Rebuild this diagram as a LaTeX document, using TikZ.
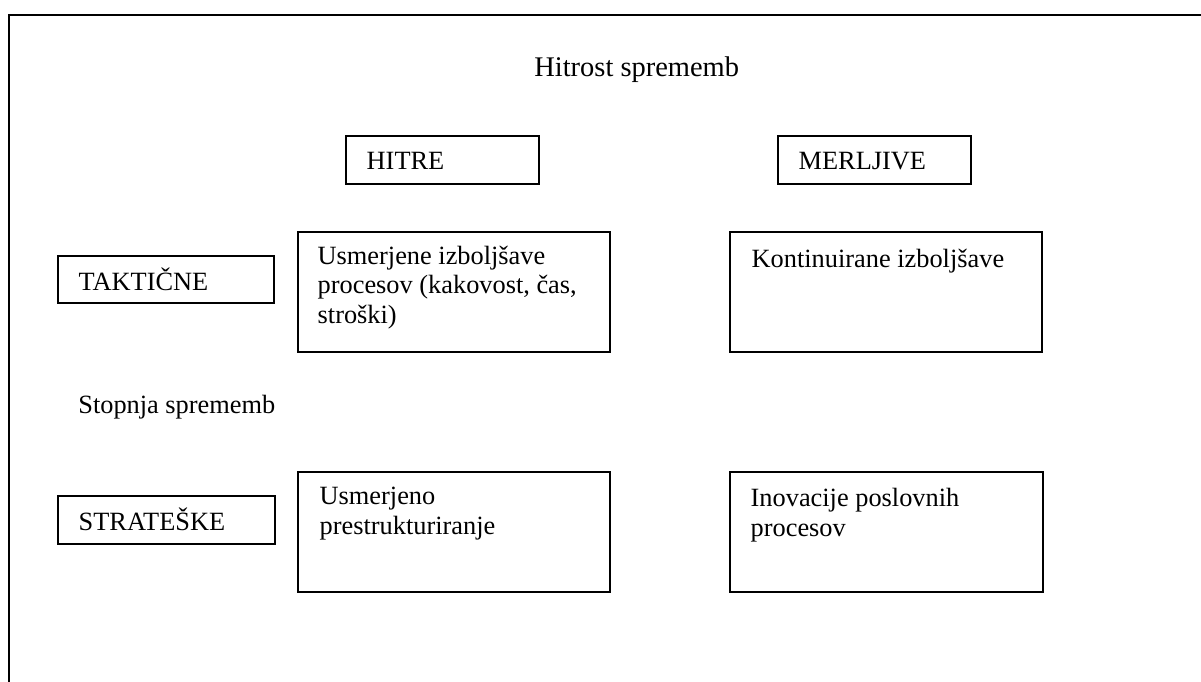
\documentclass[tikz,border=0pt]{standalone}
\usepackage{fontspec}
\setmainfont{Liberation Serif}
\usepackage{tikz}
\usetikzlibrary{positioning, calc, fit}
\tikzset{
  frame/.style={draw, line width=1pt},
  cell/.style={draw, line width=0.75pt, inner sep=0pt},
  txt/.style={anchor=base west, inner sep=0pt, align=left,
    font=\fontsize{15}{16.8}\selectfont},
}

\begin{document}
\begin{tikzpicture}[x=0.02cm, y=-0.02cm]
  \clip (0,0) rectangle (1201,682);
  \draw[frame] (9,15) rectangle (1240,720);

  % headings
  \node[txt, font=\fontsize{16.2}{18}\selectfont] (hitrost) at (534,77) {Hitrost sprememb};
  \node[txt] (stopnja) at (78,414) {Stopnja sprememb};

  % column and row tags
  \node[cell, fit={(346,136) (539,184)}] (hitreBox) {};
  \node[cell, fit={(778,136) (971,184)}] (merljiveBox) {};
  \node[cell, fit={(58,256) (274,303)}] (takticneBox) {};
  \node[cell, fit={(58,496) (275,544)}] (strateskeBox) {};
  \node[txt] (hitre) at ([shift={(21,34)}]hitreBox.north west) {HITRE};
  \node[txt] (merljive) at ([shift={(21,34)}]merljiveBox.north west) {MERLJIVE};
  \node[txt] (takticne) at ([shift={(21,35)}]takticneBox.north west) {TAKTIČNE};
  \node[txt] (strateske) at ([shift={(21,35)}]strateskeBox.north west) {STRATEŠKE};

  % quadrants (base anchor sits on the last line)
  \node[cell, fit={(298,232) (610,352)}] (usmBox) {};
  \node[cell, fit={(730,232) (1042,352)}] (kontBox) {};
  \node[cell, fit={(298,472) (610,592)}] (prestrBox) {};
  \node[cell, fit={(730,472) (1043,592)}] (inovBox) {};
  \node[txt] (usm) at ([shift={(20,92)}]usmBox.north west)
    {Usmerjene izboljšave\\procesov (kakovost, čas,\\stroški)};
  \node[txt] (kont) at ([shift={(22,36)}]kontBox.north west) {Kontinuirane izboljšave};
  \node[txt] (prestr) at ([shift={(22,63)}]prestrBox.north west)
    {Usmerjeno\\prestrukturiranje};
  \node[txt] (inov) at ([shift={(21,65)}]inovBox.north west)
    {Inovacije poslovnih\\procesov};
\end{tikzpicture}
\end{document}
